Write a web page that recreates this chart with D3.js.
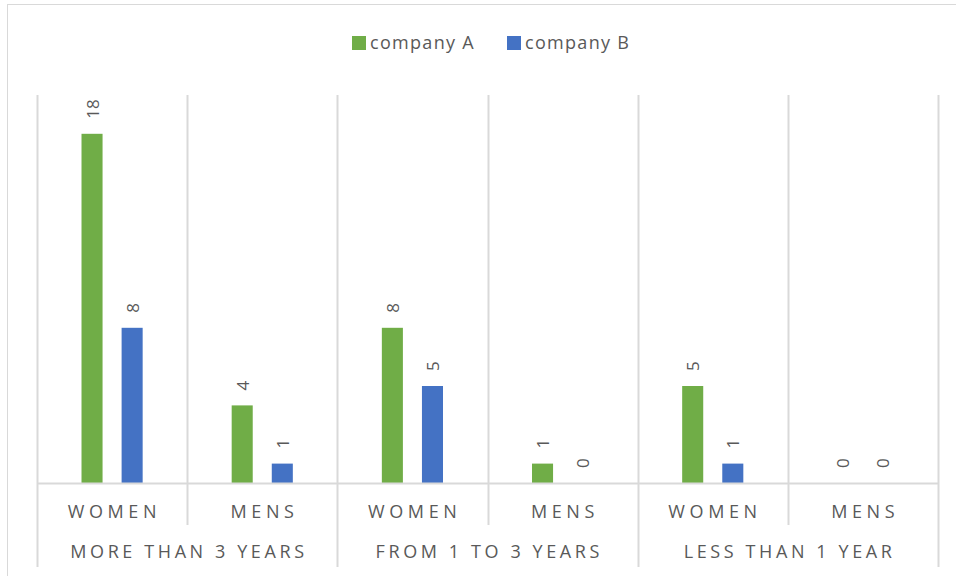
<!DOCTYPE html>
<html>
<head>
<meta charset="utf-8">
<script src="https://cdn.jsdelivr.net/npm/d3@7"></script>
<style>
  body { margin: 0; background: #fff; }
  text { font-family: "Open Sans", "Liberation Sans", sans-serif; fill: #595959; }
</style>
</head>
<body>
<svg id="chart" width="956" height="576"></svg>
<script>
// data
const groups = ['MORE THAN 3 YEARS', 'FROM 1 TO 3 YEARS', 'LESS THAN 1 YEAR'];
const genders = ['WOMEN', 'MENS'];
const seriesNames = ['company A', 'company B'];
const companyA = [18, 4, 8, 1, 5, 0];
const companyB = [8, 1, 5, 0, 1, 0];
const colors = ['#70AD47', '#4472C4'];

const width = 956, height = 576;
const margin = { left: 37, right: 18, top: 95, bottom: 93 };
const plotW = width - margin.left - margin.right;
const baseY = height - margin.bottom;

const svg = d3.select('#chart');

// outer frame
svg.append('rect')
  .attr('x', 7.5).attr('y', 4.5)
  .attr('width', 980).attr('height', 600)
  .attr('fill', 'none').attr('stroke', '#d9d9d9');

// build category list
let cats = [];
groups.forEach((g, gi) => genders.forEach((s, si) => {
  cats.push({ key: g + '|' + s, group: g, gender: s, idx: gi * 2 + si });
}));

let x = d3.scaleBand().domain(cats.map(d => d.key))
  .range([margin.left, margin.left + plotW]);
let y = d3.scaleLinear().domain([0, 20]).range([baseY, margin.top]);
let x1 = d3.scaleBand().domain(seriesNames).range([0, x.bandwidth()])
  .paddingInner(0.475).paddingOuter(1.11);

// vertical gridlines (category boundaries)
let bounds = cats.map(d => x(d.key)).concat([margin.left + plotW]);
svg.append('g').selectAll('line')
  .data(bounds)
  .enter().append('line')
  .attr('x1', d => Math.round(d) + 0.5).attr('x2', d => Math.round(d) + 0.5)
  .attr('y1', margin.top)
  .attr('y2', (d, i) => i % 2 === 0 ? baseY + 84 : baseY + 42)
  .attr('stroke', '#d9d9d9').attr('stroke-width', 2);

// bars
let rows = cats.map((c, i) => ({ cat: c, vals: [companyA[i], companyB[i]] }));
let catG = svg.append('g').selectAll('g')
  .data(rows).enter().append('g')
  .attr('transform', d => 'translate(' + x(d.cat.key) + ',0)');

catG.selectAll('rect')
  .data(d => d.vals.map((v, i) => ({ v: v, s: seriesNames[i], i: i })))
  .enter().append('rect')
  .attr('x', d => x1(d.s))
  .attr('width', x1.bandwidth())
  .attr('y', d => y(d.v))
  .attr('height', d => baseY - y(d.v))
  .attr('fill', d => colors[d.i]);

// data labels (rotated)
catG.selectAll('text')
  .data(d => d.vals.map((v, i) => ({ v: v, s: seriesNames[i] })))
  .enter().append('text')
  .attr('transform', d => 'translate(' + (x1(d.s) + x1.bandwidth() / 2 + 6.5) + ',' + (y(d.v) - 15) + ') rotate(-90)')
  .attr('text-anchor', 'start')
  .style('font-size', '17px')
  .text(d => d.v);

// baseline
svg.append('line')
  .attr('x1', margin.left).attr('x2', margin.left + plotW)
  .attr('y1', baseY + 0.5).attr('y2', baseY + 0.5)
  .attr('stroke', '#d9d9d9').attr('stroke-width', 2);

// gender labels
svg.append('g').selectAll('text')
  .data(cats).enter().append('text')
  .attr('x', d => x(d.key) + x.bandwidth() / 2 + 2.3)
  .attr('y', baseY + 35)
  .attr('text-anchor', 'middle')
  .style('font-size', '18px')
  .style('letter-spacing', '4.6px')
  .text(d => d.gender);

// group labels
svg.append('g').selectAll('text')
  .data(groups).enter().append('text')
  .attr('x', (d, i) => x(cats[i * 2].key) + x.bandwidth() + 1.8)
  .attr('y', baseY + 75)
  .attr('text-anchor', 'middle')
  .style('font-size', '18px')
  .style('letter-spacing', '3.6px')
  .text(d => d);

// legend
let legend = svg.append('g');
let lx = [352, 507];
seriesNames.forEach((s, i) => {
  legend.append('rect')
    .attr('x', lx[i]).attr('y', 36).attr('width', 14).attr('height', 14)
    .attr('fill', colors[i]);
  legend.append('text')
    .attr('x', lx[i] + 18).attr('y', 49)
    .style('font-size', '18px')
    .style('letter-spacing', '1.3px')
    .text(s);
});
</script>
</body>
</html>
